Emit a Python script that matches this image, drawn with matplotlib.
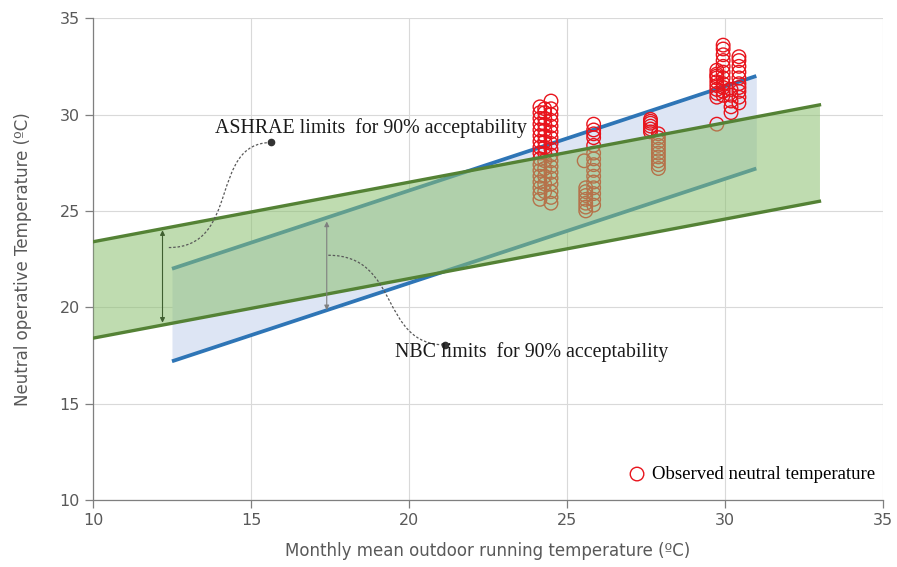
import matplotlib
matplotlib.use("Agg")
import matplotlib.pyplot as plt
from matplotlib.path import Path
from matplotlib.patches import PathPatch, FancyArrowPatch

# ---- data ----
ashrae_x = [10, 33]
ashrae_upper = [23.4, 30.5]
ashrae_lower = [18.4, 25.5]

nbc_x = [12.5, 31]
nbc_upper = [22.0, 32.0]
nbc_lower = [17.2, 27.2]

obs_x1 = [24.15] * 17
obs_y1 = [25.6, 25.9, 26.2, 26.5, 26.8, 27.1, 27.4, 27.7, 28.0, 28.3, 28.6,
          28.9, 29.2, 29.5, 29.8, 30.1, 30.4]
obs_x1b = [24.3] * 14
obs_y1b = [26.0, 26.4, 26.8, 27.2, 27.6, 28.0, 28.3, 28.6, 28.9, 29.2, 29.5,
           29.8, 30.1, 30.3]
obs_x2 = [24.5] * 18
obs_y2 = [25.4, 25.7, 26.0, 26.4, 26.7, 27.0, 27.3, 27.6, 27.9, 28.2, 28.5,
          28.8, 29.1, 29.4, 29.7, 30.0, 30.3, 30.7]
obs_x3 = [25.6] * 7 + [25.55]
obs_y3 = [25.0, 25.2, 25.4, 25.6, 25.8, 26.0, 26.2, 27.6]
obs_x4 = [25.85] * 15
obs_y4 = [25.3, 25.6, 25.9, 26.2, 26.5, 26.8, 27.1, 27.4, 27.7, 28.0, 28.4,
          28.8, 29.0, 29.2, 29.5]
obs_x5 = [27.65] * 6
obs_y5 = [29.1, 29.25, 29.4, 29.55, 29.65, 29.75]
obs_x6 = [27.9] * 10
obs_y6 = [27.2, 27.4, 27.6, 27.8, 28.0, 28.2, 28.4, 28.6, 28.8, 29.0]
obs_x7 = [29.75] * 9 + [29.75]
obs_y7 = [30.9, 31.1, 31.3, 31.5, 31.7, 31.9, 32.0, 32.1, 32.3, 29.5]
obs_x8 = [29.95] * 11
obs_y8 = [31.0, 31.2, 31.4, 31.6, 31.9, 32.2, 32.5, 32.8, 33.1, 33.4, 33.6]
obs_x9 = [30.2] * 5
obs_y9 = [30.1, 30.4, 30.7, 31.0, 31.3]
obs_x10 = [30.45] * 10
obs_y10 = [30.6, 30.9, 31.2, 31.4, 31.6, 31.9, 32.2, 32.5, 32.8, 33.0]

obs_x = (obs_x1 + obs_x1b + obs_x2 + obs_x3 + obs_x4 + obs_x5 + obs_x6 + obs_x7
         + obs_x8 + obs_x9 + obs_x10)
obs_y = (obs_y1 + obs_y1b + obs_y2 + obs_y3 + obs_y4 + obs_y5 + obs_y6 + obs_y7
         + obs_y8 + obs_y9 + obs_y10)

xticks = [10, 15, 20, 25, 30, 35]
yticks = [10, 15, 20, 25, 30, 35]

grey = "#595959"
green_line = "#548235"
green_fill = (140 / 255, 192 / 255, 112 / 255)
blue_line = "#2e75b6"
blue_fill = "#dde5f4"
red = "#e8141c"

fig = plt.figure(figsize=(8.97, 5.67), dpi=100)
ax = fig.add_axes([0.1037, 0.118, 0.8803, 0.850])

ax.set_xlim(10, 35)
ax.set_ylim(10, 35)
ax.set_xticks(xticks)
ax.set_yticks(yticks)
ax.grid(True, color="#d9d9d9", linewidth=0.8, zorder=0)
ax.set_axisbelow(True)
for s in ["top", "right"]:
    ax.spines[s].set_visible(False)
for s in ["left", "bottom"]:
    ax.spines[s].set_color("#7f7f7f")
    ax.spines[s].set_linewidth(0.9)
ax.tick_params(colors="#7f7f7f", labelcolor=grey, labelsize=11.5, length=6, width=0.9)
ax.set_xlabel("Monthly mean outdoor running temperature (ºC)", fontsize=12, color=grey, labelpad=10)
ax.set_ylabel("Neutral operative Temperature (ºC)", fontsize=12, color=grey, labelpad=20)

# NBC band
ax.fill_between(nbc_x, nbc_lower, nbc_upper, color=blue_fill, linewidth=0, zorder=1)
ax.plot(nbc_x, nbc_upper, color=blue_line, linewidth=2.7, solid_capstyle="butt", zorder=2)
ax.plot(nbc_x, nbc_lower, color=blue_line, linewidth=2.7, solid_capstyle="butt", zorder=2)

# observations
sc = ax.scatter(obs_x, obs_y, s=95, facecolors="none", edgecolors=red, linewidths=1.0,
                zorder=3, label="Observed neutral temperature")

# ASHRAE band on top
ax.fill_between(ashrae_x, ashrae_lower, ashrae_upper, color=green_fill, alpha=0.55,
                linewidth=0, zorder=4)
ax.plot(ashrae_x, ashrae_upper, color=green_line, linewidth=2.4, zorder=5)
ax.plot(ashrae_x, ashrae_lower, color=green_line, linewidth=2.4, zorder=5)

# arrows
a1 = FancyArrowPatch((12.2, 19.2), (12.2, 24.0), arrowstyle="<|-|>", mutation_scale=7,
                     color="#3f5f30", linewidth=0.8, zorder=6, shrinkA=0, shrinkB=0)
ax.add_patch(a1)
a2 = FancyArrowPatch((17.4, 19.85), (17.4, 24.45), arrowstyle="<|-|>", mutation_scale=7,
                     color="#7f7f7f", linewidth=0.8, zorder=6, shrinkA=0, shrinkB=0)
ax.add_patch(a2)

# dashed connectors
def s_curve(p0, p3, k1, k2):
    verts = [p0, (p0[0] + k1, p0[1]), (p3[0] - k2, p3[1]), p3]
    codes = [Path.MOVETO, Path.CURVE4, Path.CURVE4, Path.CURVE4]
    return PathPatch(Path(verts, codes), facecolor="none", edgecolor="#595959",
                     linestyle=(0, (2, 1.5)), linewidth=0.9, zorder=6)

ax.add_patch(s_curve((12.4, 23.1), (15.65, 28.55), 2.3, 2.0))
ax.plot([15.65], [28.55], "o", color="#333333", markersize=4.5, zorder=7)
ax.add_patch(s_curve((17.45, 22.7), (21.15, 18.05), 2.3, 2.1))
ax.plot([21.15], [18.05], "o", color="#333333", markersize=4.5, zorder=7)

ax.text(13.85, 29.3, "ASHRAE limits  for 90% acceptability", family="Liberation Serif",
        fontsize=14.3, color="#1a1a1a", va="center", ha="left", zorder=8)
ax.text(19.55, 17.7, "NBC limits  for 90% acceptability", family="Liberation Serif",
        fontsize=14.3, color="#1a1a1a", va="center", ha="left", zorder=8)

leg = ax.legend(handles=[sc], loc="lower right", bbox_to_anchor=(1.0, 0.02), frameon=False,
                prop={"family": "Liberation Serif", "size": 13.5}, handletextpad=0.2,
                borderaxespad=0.0, handlelength=1.2)

fig.savefig("out.png", dpi=100)
